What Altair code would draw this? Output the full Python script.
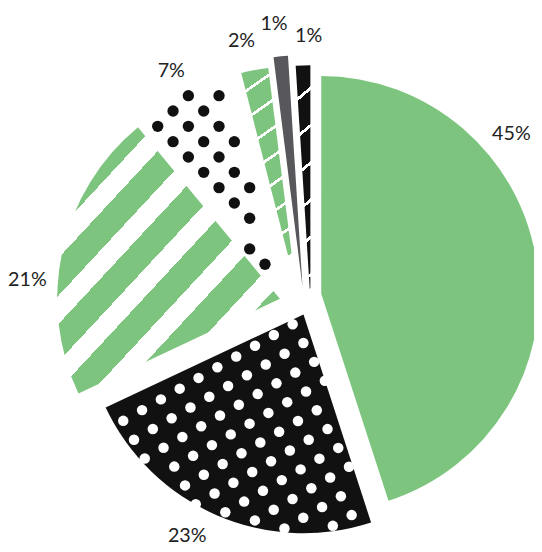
import math
import altair as alt
import pandas as pd

# ---- data ----
keys = ["a", "b", "c", "d", "e", "f", "g"]
values = [45, 23, 21, 7, 2, 1, 1]
labels = ["45%", "23%", "21%", "7%", "2%", "1%", "1%"]

ends = []
acc = 0
for v in values:
    acc += v
    ends.append(acc)
starts = [e - v for e, v in zip(ends, values)]
df = pd.DataFrame({
    "key": keys, "value": values, "label": labels,
    "start": starts, "end": ends,
    "mid": [(s + e) / 2 for s, e in zip(starts, ends)],
})

# ---- style ----
M = 8  # page margin
GREEN = "#7dc57f"
BLACK = "#111111"
GRAY = "#58585c"


def stripe_gradient(c_on, c_off, periods, frac_on, x2, y2):
    stops = []
    k = 0
    while k / periods < 1:
        a = k / periods
        b = min((k + frac_on) / periods, 1.0)
        c = min((k + 1) / periods, 1.0)
        stops += [(a, c_on), (b, c_on), (b, c_off), (c, c_off)]
        k += 1
    return {"gradient": "linear", "x1": 0, "y1": 0, "x2": x2, "y2": y2,
            "stops": [{"offset": round(o, 5), "color": col} for o, col in stops]}


STYLE = {
    "a": dict(cx=326, cy=294, r=221, fill=GREEN, lr=252, ls=-31.0),
    "b": dict(cx=308, cy=315, r=222, fill=BLACK, lr=254, ls=4.3),
    "c": dict(cx=284, cy=299, r=226,
              fill=stripe_gradient(GREEN, "#ffffff", 7.3, 0.57, 0.9, 1), lr=257, ls=-8.4),
    "d": dict(cx=288, cy=298, r=235, fill="#ffffff", lr=257, ls=0.6),
    "e": dict(cx=300, cy=285, r=222,
              fill=stripe_gradient(GREEN, "#ffffff", 8.0, 0.88, 0.175, 1), lr=254, ls=-1.7),
    "f": dict(cx=307, cy=287, r=235, fill=GRAY, lr=268, ls=-0.8),
    "g": dict(cx=315, cy=300, r=238,
              fill=stripe_gradient(BLACK, "#ffffff", 6.3, 0.9, 0.053, 1), lr=268, ls=1.4),
}

theta_scale = alt.Scale(domain=[0, 100])

layers = []
for k in keys:
    st = STYLE[k]
    layers.append(
        alt.Chart(df).transform_filter(alt.datum.key == k)
        .mark_arc(radius=st["r"], fill=st["fill"], stroke=None)
        .encode(
            theta=alt.Theta("start:Q", scale=theta_scale, stack=None),
            theta2="end:Q",
            x=alt.value(st["cx"] - M),
            y=alt.value(st["cy"] - M),
        )
    )


def dot_layer(key, ox, oy, ang_deg, sp, diam, color, inset):
    st = STYLE[key]
    row = df[df.key == key].iloc[0]
    a0 = row.start * 3.6
    a1 = row.end * 3.6
    ax, ay = st["cx"] - M, st["cy"] - M
    R = st["r"]
    ca, sa = math.cos(math.radians(ang_deg)), math.sin(math.radians(ang_deg))
    N = 44
    h = N // 2
    return (
        alt.Chart(alt.sequence(0, N * N, as_="k"))
        .transform_calculate(gi=f"floor(datum.k / {N}) - {h}")
        .transform_calculate(gj=f"datum.k % {N} - {h}")
        .transform_calculate(px=f"{ox - M} + {sp}*(datum.gi*{ca:.5f} - datum.gj*{sa:.5f})")
        .transform_calculate(py=f"{oy - M} + {sp}*(datum.gi*{sa:.5f} + datum.gj*{ca:.5f})")
        .transform_calculate(rr=f"sqrt(pow(datum.px - {ax}, 2) + pow(datum.py - {ay}, 2))")
        .transform_calculate(aa=f"(atan2(datum.px - {ax}, {ay} - datum.py) * 180 / PI + 360) % 360")
        .transform_filter(
            f"datum.aa > {a0} && datum.aa < {a1} && datum.rr < {R - inset} && "
            f"datum.rr * sin((datum.aa - {a0}) * PI / 180) > {inset} && "
            f"datum.rr * sin(({a1} - datum.aa) * PI / 180) > {inset}"
        )
        .mark_circle(size=math.pi * (diam / 2) ** 2, color=color, opacity=1)
        .encode(
            x=alt.X("px:Q", scale=None, axis=None),
            y=alt.Y("py:Q", scale=None, axis=None),
        )
    )


layers.append(dot_layer("b", 125, 423, -29.7, 22, 12, "#ffffff", 0))
layers.append(dot_layer("d", 160, 124, 45, 22, 13, BLACK, 4))

for k in keys:
    st = STYLE[k]
    layers.append(
        alt.Chart(df).transform_filter(alt.datum.key == k)
        .transform_calculate(lab=f"datum.mid + {st['ls'] / 3.6:.4f}")
        .mark_text(radius=st["lr"], font="Lato", fontSize=20, color="#222222",
                   align="center", baseline="middle")
        .encode(
            theta=alt.Theta("lab:Q", scale=theta_scale, stack=None),
            text="label:N",
            x=alt.value(st["cx"] - M),
            y=alt.value(st["cy"] - M),
        )
    )

chart = (
    alt.layer(*layers)
    .properties(width=534, height=544, padding=0, autosize="none")
    .configure_view(stroke=None)
)

chart.save("out.html", embed_options={"renderer": "svg", "actions": False})
